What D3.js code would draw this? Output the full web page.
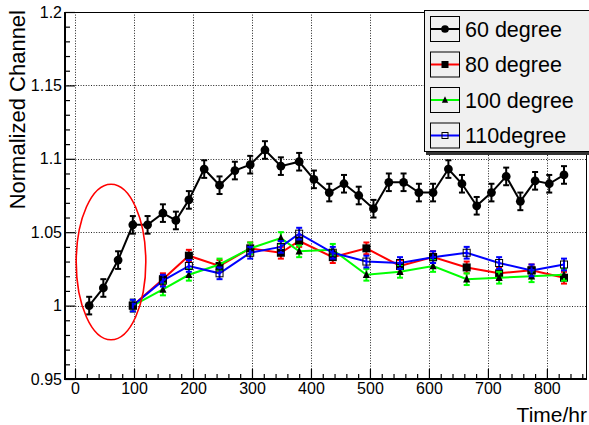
<!DOCTYPE html>
<html>
<head>
<meta charset="utf-8">
<script src="https://d3js.org/d3.v7.min.js"></script>
<style>
    body {
        margin: 0;
        background: #fff;
    }
    svg text {
        font-family: "Liberation Sans", Arial, sans-serif;
        fill: #000;
    }
</style>
</head>
<body>
<script>

    // ==== DATA ====== //
    var time60 = [24, 48, 73, 98, 123, 149, 171, 193, 219, 245, 271, 297, 322, 349, 380, 405, 431,
        456, 481, 506, 532, 557, 583, 607, 633, 656, 681, 706, 731, 755, 780, 804, 829];
    var deg60 = [1.000, 1.012, 1.031, 1.055, 1.055, 1.063, 1.058, 1.072, 1.093, 1.082, 1.092, 1.096,
        1.106, 1.095, 1.098, 1.086, 1.077, 1.083, 1.075, 1.066, 1.084, 1.084, 1.077, 1.077, 1.093,
        1.083, 1.068, 1.077, 1.088, 1.071, 1.085, 1.083, 1.089];
    var err60 = 0.006;

    var timeOther = [98, 149, 193, 245, 297, 349, 380, 437, 494, 551, 607, 664, 719, 774, 829];
    var deg80 = [1.000, 1.018, 1.034, 1.027, 1.039, 1.036, 1.044, 1.033, 1.039, 1.027, 1.033, 1.026, 1.022, 1.024, 1.019];
    var deg100 = [1.000, 1.011, 1.021, 1.028, 1.039, 1.046, 1.037, 1.038, 1.021, 1.023, 1.027, 1.018, 1.019, 1.020, 1.021];
    var deg110 = [1.000, 1.017, 1.027, 1.022, 1.036, 1.040, 1.049, 1.036, 1.030, 1.029, 1.033, 1.036, 1.029, 1.024, 1.028];
    var errOther = 0.004;

    var seriesNames = ["60 degree", "80 degree", "100 degree", "110degree"];
    var xTicks = [0, 100, 200, 300, 400, 500, 600, 700, 800];
    var yTicks = [0.95, 1, 1.05, 1.1, 1.15, 1.2];

    // ellipse drawn around the first points (data units)
    var ring = { t: 61, v: 1.0297, rt: 59, rv: 0.053 };

    var series = [
        { name: seriesNames[0], t: time60, v: deg60, err: err60, line: "#000", marker: "circle" },
        { name: seriesNames[1], t: timeOther, v: deg80, err: errOther, line: "#ff0000", marker: "square" },
        { name: seriesNames[2], t: timeOther, v: deg100, err: errOther, line: "#00ff00", marker: "triangle" },
        { name: seriesNames[3], t: timeOther, v: deg110, err: errOther, line: "#0000ff", marker: "open" }
    ];

    var width = 589, height = 425;
    var plot = { left: 65, right: 587, top: 12, bottom: 379 };

    var svg = d3.select("body").append("svg")
        .attr("width", width)
        .attr("height", height);

    var xScale = d3.scaleLinear()
        .domain([-17, 868])
        .range([plot.left, plot.right]);

    var yScale = d3.scaleLinear()
        .domain([0.95, 1.2])
        .range([plot.bottom, plot.top]);

    // grid (dotted)
    var grid = svg.append("g").attr("class", "grid")
        .style("stroke", "#222")
        .style("stroke-width", 1)
        .style("stroke-dasharray", "1,1.6");

    grid.selectAll(".gx")
        .data(xTicks)
        .enter().append("line")
        .attr("x1", function (d) { return Math.round(xScale(d)) + 0.5; })
        .attr("x2", function (d) { return Math.round(xScale(d)) + 0.5; })
        .attr("y1", plot.top)
        .attr("y2", plot.bottom);

    grid.selectAll(".gy")
        .data(yTicks.slice(1, -1))
        .enter().append("line")
        .attr("x1", plot.left)
        .attr("x2", plot.right)
        .attr("y1", function (d) { return Math.round(yScale(d)) + 0.5; })
        .attr("y2", function (d) { return Math.round(yScale(d)) + 0.5; });

    // frame
    svg.append("rect")
        .attr("x", plot.left + 0.5)
        .attr("y", plot.top + 0.5)
        .attr("width", plot.right - plot.left - 1)
        .attr("height", plot.bottom - plot.top)
        .style("fill", "none")
        .style("stroke", "#000")
        .style("stroke-width", 1);

    // axes
    var xAxis = d3.axisBottom(xScale)
        .tickValues(xTicks)
        .tickSize(-10)
        .tickPadding(4)
        .tickFormat(d3.format("d"));

    var xMinor = d3.axisBottom(xScale)
        .tickValues(d3.range(-0, 861, 20).filter(function (d) { return d % 100 !== 0; }))
        .tickSize(-5)
        .tickFormat("");

    var yAxis = d3.axisLeft(yScale)
        .tickValues(yTicks)
        .tickSize(-10)
        .tickPadding(3)
        .tickFormat(function (d) { return d3.format("")(+d.toFixed(2)); });

    var yMinor = d3.axisLeft(yScale)
        .tickValues(d3.range(0.96, 1.2, 0.01).filter(function (d) { return Math.abs(d * 20 - Math.round(d * 20)) > 1e-6; }))
        .tickSize(-5)
        .tickFormat("");

    svg.append("g")
        .attr("class", "x axis")
        .attr("transform", "translate(0," + plot.bottom + ")")
        .call(xAxis);

    svg.append("g")
        .attr("class", "x minor")
        .attr("transform", "translate(0," + plot.bottom + ")")
        .call(xMinor);

    svg.append("g")
        .attr("class", "y axis")
        .attr("transform", "translate(" + plot.left + ",0)")
        .call(yAxis);

    svg.append("g")
        .attr("class", "y minor")
        .attr("transform", "translate(" + plot.left + ",0)")
        .call(yMinor);

    svg.selectAll(".axis .domain, .minor .domain").remove();
    svg.selectAll(".axis line, .minor line").style("stroke", "#000").style("stroke-width", 1.2);
    svg.selectAll(".axis text")
        .style("font-family", "'Liberation Sans', Arial, sans-serif")
        .style("font-size", "16px")
        .style("fill", "#000");

    // thick axis lines
    svg.append("line")
        .attr("x1", plot.left).attr("x2", plot.left)
        .attr("y1", plot.top).attr("y2", plot.bottom + 1)
        .style("stroke", "#000").style("stroke-width", 2);
    svg.append("line")
        .attr("x1", plot.left).attr("x2", plot.right)
        .attr("y1", plot.bottom).attr("y2", plot.bottom)
        .style("stroke", "#000").style("stroke-width", 2);

    // axis titles
    svg.append("text")
        .attr("transform", "translate(25,10) rotate(-90)")
        .style("text-anchor", "end")
        .style("font-size", "22px")
        .text("Normalized Channel");

    svg.append("text")
        .attr("x", 587)
        .attr("y", 422)
        .style("text-anchor", "end")
        .style("font-size", "21px")
        .text("Time/hr");

    // markers
    function drawMarker(g, type, size) {
        if (type === "circle") {
            g.append("circle").attr("r", size * 0.55).style("fill", "#000");
        } else if (type === "square") {
            g.append("rect").attr("x", -size / 2).attr("y", -size / 2)
                .attr("width", size).attr("height", size).style("fill", "#000");
        } else if (type === "triangle") {
            var h = size * 0.9;
            g.append("path")
                .attr("d", "M0," + (-h * 0.6) + "L" + (h / 2) + "," + (h * 0.45) + "L" + (-h / 2) + "," + (h * 0.45) + "Z")
                .style("fill", "#000");
        } else {
            g.append("rect").attr("x", -size / 2 + 0.5).attr("y", -size / 2 + 0.5)
                .attr("width", size - 1).attr("height", size - 1)
                .style("fill", "none").style("stroke", "#000").style("stroke-width", 1);
        }
    }

    var line = d3.line()
        .x(function (d) { return xScale(d.t); })
        .y(function (d) { return yScale(d.v); });

    series.forEach(function (s) {
        var pts = s.t.map(function (t, i) { return { t: t, v: s.v[i], e: s.err }; });
        var g = svg.append("g").attr("class", "series");

        g.append("path")
            .datum(pts)
            .attr("d", line)
            .style("fill", "none")
            .style("stroke", s.line)
            .style("stroke-width", 2);

        var eb = g.selectAll(".err")
            .data(pts)
            .enter().append("g")
            .style("stroke", s.line)
            .style("stroke-width", 2);

        eb.append("line")
            .attr("x1", function (d) { return xScale(d.t); })
            .attr("x2", function (d) { return xScale(d.t); })
            .attr("y1", function (d) { return yScale(d.v - d.e); })
            .attr("y2", function (d) { return yScale(d.v + d.e); });
        [-1, 1].forEach(function (sign) {
            eb.append("line")
                .attr("x1", function (d) { return xScale(d.t) - 3; })
                .attr("x2", function (d) { return xScale(d.t) + 3; })
                .attr("y1", function (d) { return yScale(d.v + sign * d.e); })
                .attr("y2", function (d) { return yScale(d.v + sign * d.e); });
        });

        g.selectAll(".mk")
            .data(pts)
            .enter().append("g")
            .attr("transform", function (d) { return "translate(" + xScale(d.t) + "," + yScale(d.v) + ")"; })
            .each(function () { drawMarker(d3.select(this), s.marker, 8); });
    });

    // red ellipse
    svg.append("ellipse")
        .attr("cx", xScale(ring.t))
        .attr("cy", yScale(ring.v))
        .attr("rx", xScale(ring.t + ring.rt) - xScale(ring.t))
        .attr("ry", yScale(ring.v - ring.rv) - yScale(ring.v))
        .style("fill", "none")
        .style("stroke", "#ff0000")
        .style("stroke-width", 1.6);

    // Legend
    var leg = svg.append("g").attr("class", "legend");
    leg.append("rect")
        .attr("x", 426).attr("y", 13)
        .attr("width", 170).attr("height", 142)
        .style("fill", "#333");
    leg.append("rect")
        .attr("x", 424.5).attr("y", 10.5)
        .attr("width", 170).attr("height", 141)
        .style("fill", "#f0f0f0")
        .style("stroke", "#000")
        .style("stroke-width", 1);

    var entry = leg.selectAll(".entry")
        .data(series)
        .enter().append("g")
        .attr("class", "entry")
        .attr("transform", function (d, i) { return "translate(0," + (29 + i * 35.5) + ")"; });

    entry.append("rect")
        .attr("x", 430.5).attr("y", -12.5)
        .attr("width", 29).attr("height", 25)
        .style("fill", "none")
        .style("stroke", "#000")
        .style("stroke-width", 1);

    entry.append("line")
        .attr("x1", 431).attr("x2", 459)
        .attr("y1", 0).attr("y2", 0)
        .style("stroke", function (d) { return d.line; })
        .style("stroke-width", 2);

    entry.append("g")
        .attr("transform", "translate(445,0)")
        .each(function (d) { drawMarker(d3.select(this), d.marker, 7); });

    entry.append("text")
        .attr("x", 465)
        .attr("y", 0)
        .attr("dy", "0.36em")
        .style("font-size", "21.5px")
        .text(function (d) { return d.name; });

</script>
</body>
</html>
